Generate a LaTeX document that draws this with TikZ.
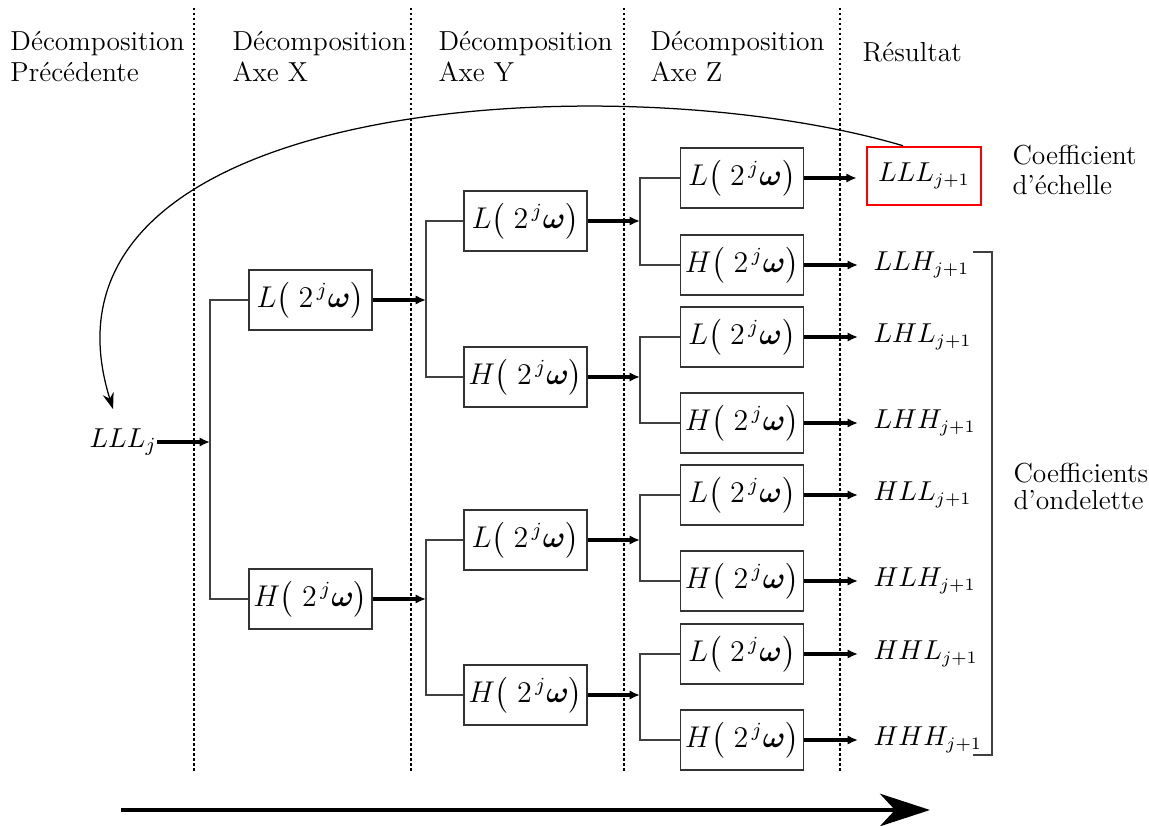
\documentclass[tikz,border=0pt]{standalone}
\usepackage{amsmath}
\usetikzlibrary{arrows.meta}
\newcommand{\filtL}{$L\bigl(\;2^{\,j}\boldsymbol{\omega}\bigr)$}
\newcommand{\filtH}{$H\bigl(\;2^{\,j}\boldsymbol{\omega}\bigr)$}
\tikzset{
  filt/.style={draw=black!80, line width=0.5pt, minimum width=49.2pt, minimum height=24pt, inner sep=0pt, font=\fontsize{11.5}{13}\selectfont},
  branch/.style={draw=black!75, line width=0.5pt},
  tharrow/.style={line width=1.3pt, -{Latex[length=4.2pt,width=3.8pt]}},
  hdr/.style={align=left, anchor=base west, inner sep=0pt, font=\fontsize{11}{12.4}\selectfont},
  outlbl/.style={anchor=west, inner xsep=6pt, inner ysep=0pt, font=\fontsize{10.5}{13}\selectfont},
  sepline/.style={line width=0.5pt, dash pattern=on 1pt off 1pt},
}
\begin{document}
\begin{tikzpicture}[x=0.4pt, y=-0.4pt]
\useasboundingbox (0,0) rectangle (1149,826);

% separators
\draw[sepline] (194,8) -- (194,773);
\draw[sepline] (411,8) -- (411,773);
\draw[sepline] (624,8) -- (624,773);
\draw[sepline] (840,8) -- (840,773);

% headers (anchor = baseline of last line)
\node[hdr] (h0) at (10,82) {Décomposition\\Précédente};
\node[hdr] (h1) at (232,82) {Décomposition\\Axe X};
\node[hdr] (h2) at (438,82) {Décomposition\\Axe Y};
\node[hdr] (h3) at (650,82) {Décomposition\\Axe Z};
\node[hdr] (h4) at (862,62) {Résultat};

% input
\node[anchor=east, inner sep=0pt, font=\fontsize{11}{13}\selectfont] (in) at (157,442) {$LLL_j$};

% junctions
\coordinate (j0) at (210,442);
\coordinate (jx1) at (426,300);
\coordinate (jx2) at (426,599);
\coordinate (jy1) at (640,221);
\coordinate (jy2) at (640,377);
\coordinate (jy3) at (640,540);
\coordinate (jy4) at (640,695);

% filters X
\node[filt] (xL) at (310.5,300) {\filtL};
\node[filt] (xH) at (310.5,599) {\filtH};
% filters Y
\node[filt] (yA) at (525.5,221) {\filtL};
\node[filt] (yB) at (525.5,377) {\filtH};
\node[filt] (yC) at (525.5,540) {\filtL};
\node[filt] (yD) at (525.5,695) {\filtH};
% filters Z
\node[filt] (zA) at (742,178) {\filtL};
\node[filt] (zB) at (742,265) {\filtH};
\node[filt] (zC) at (742,337) {\filtL};
\node[filt] (zD) at (742,423) {\filtH};
\node[filt] (zE) at (742,495) {\filtL};
\node[filt] (zF) at (742,581) {\filtH};
\node[filt] (zG) at (742,654) {\filtL};
\node[filt] (zH) at (742,740) {\filtH};

% outputs
\node[draw=red, line width=1pt, minimum width=45.6pt, minimum height=23.2pt, inner sep=0pt, font=\fontsize{10.5}{13}\selectfont] (oA) at (924,176) {$LLL_{j+1}$};
\node[outlbl] (oB) at (858,265) {$LLH_{j+1}$};
\node[outlbl] (oC) at (858,337) {$LHL_{j+1}$};
\node[outlbl] (oD) at (858,423) {$LHH_{j+1}$};
\node[outlbl] (oE) at (858,495) {$HLL_{j+1}$};
\node[outlbl] (oF) at (858,581) {$HLH_{j+1}$};
\node[outlbl] (oG) at (858,654) {$HHL_{j+1}$};
\node[outlbl] (oH) at (858,740) {$HHH_{j+1}$};

% right labels
\node[hdr, font=\fontsize{11}{12}\selectfont] (ce) at (1012,195) {Coefficient\\d'échelle};
\node[hdr, font=\fontsize{11}{10.8}\selectfont] (co) at (1013,510) {Coefficients\\d'ondelette};
\draw[branch] (973,252) -- (992,252) -- (992,755) -- (973,755);

% connections
\draw[tharrow] (in.east) -- (j0);
\draw[branch] (xL.west) -| (j0) |- (xH.west);

\draw[tharrow] (xL.east) -- (jx1);
\draw[tharrow] (xH.east) -- (jx2);
\draw[branch] (yA.west) -| (jx1) |- (yB.west);
\draw[branch] (yC.west) -| (jx2) |- (yD.west);

\draw[tharrow] (yA.east) -- (jy1);
\draw[tharrow] (yB.east) -- (jy2);
\draw[tharrow] (yC.east) -- (jy3);
\draw[tharrow] (yD.east) -- (jy4);
\draw[branch] (zA.west) -| (jy1) |- (zB.west);
\draw[branch] (zC.west) -| (jy2) |- (zD.west);
\draw[branch] (zE.west) -| (jy3) |- (zF.west);
\draw[branch] (zG.west) -| (jy4) |- (zH.west);

\draw[tharrow, shorten >=3.6pt] (zA.east) -- (zA.east -| oA.west);
\draw[tharrow] (zB.east) -- (oB.west);
\draw[tharrow] (zC.east) -- (oC.west);
\draw[tharrow] (zD.east) -- (oD.west);
\draw[tharrow] (zE.east) -- (oE.west);
\draw[tharrow] (zF.east) -- (oF.west);
\draw[tharrow] (zG.east) -- (oG.west);
\draw[tharrow] (zH.east) -- (oH.west);

% feedback curve
\draw[line width=0.5pt, -{Stealth[length=6.5pt,width=4.5pt]}] ([xshift=-8.4pt]oA.north) .. controls (620,62) and (15,95) .. ([xshift=-4pt,yshift=7.6pt]in.north);

% bottom arrow
\coordinate (ba) at (121,810);
\coordinate (bb) at (930,810);
\draw[line width=1.6pt, -{Stealth[length=20pt,width=13pt,inset=6pt]}] (ba) -- (bb);
\end{tikzpicture}
\end{document}
